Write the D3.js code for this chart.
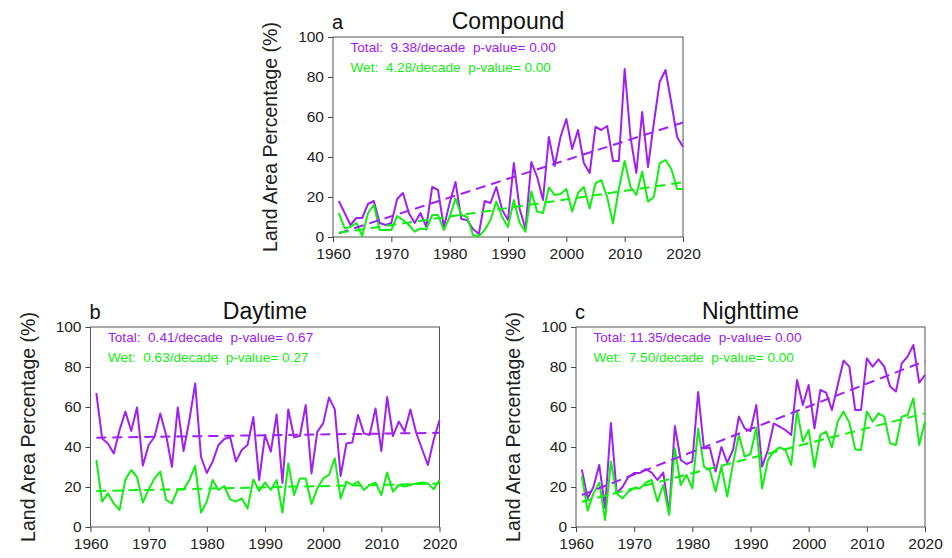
<!DOCTYPE html>
<html>
<head>
<meta charset="utf-8">
<script src="https://cdn.jsdelivr.net/npm/d3@7"></script>
<style>
  body { margin: 0; background: #fff; }
  svg { display: block; font-family: "Liberation Sans", Arial, Helvetica, sans-serif; }
</style>
</head>
<body>
<div id="chart"></div>
<script>
const years = d3.range(1961, 2021)

const compoundTotal = [18, 12, 6, 9.5, 9.5, 16.5, 18, 7, 6, 7,
  19, 22, 12, 7, 12, 5, 25, 23.5, 5, 17,
  27.5, 9, 8.5, 4, 1.5, 18, 17, 25, 13.5, 8.5,
  37, 14, 4, 37.5, 30, 18.5, 50, 35.5, 50, 59,
  44, 53.5, 37, 32, 55, 53.5, 55.5, 38, 38, 84,
  50, 32, 62.5, 35, 57, 77.5, 83.5, 67, 50, 45]
const compoundWet = [12, 4.3, 5, 7, 0.5, 12, 16, 3.5, 3.5, 3.5,
  10.5, 8.5, 6, 2.7, 4.3, 3.8, 11, 11, 3.5, 10,
  19.3, 11, 10, 1, 0.3, 3.5, 8.5, 17.7, 10, 5,
  18.5, 7, 2.7, 22.7, 12.7, 12, 24.8, 21, 21.5, 24,
  12.7, 22, 25, 14.3, 26.8, 28.5, 20, 6.8, 24, 38,
  25, 21, 32.7, 17.7, 20, 36.8, 38.5, 34, 24, 24]

const dayTotal = [67, 44.3, 41.8, 36.8, 48.5, 57.7, 48, 59.8, 30.7, 41,
  45, 56.8, 46, 30, 59.8, 38, 53.5, 71.8, 35, 27,
  32.7, 41, 44, 45, 32.7, 38.5, 41, 55, 23.5, 46,
  37.7, 56.3, 22, 58.8, 44.8, 45.5, 61, 26.8, 47.7, 51.8,
  64.8, 58.8, 25.5, 41.8, 42.2, 56, 46.8, 46, 59.3, 38,
  65, 45.5, 52.7, 47.7, 58.8, 47, 39, 31, 43.5, 53.5]
const dayWet = [33.5, 12.7, 16.8, 11.8, 8.5, 23.8, 28.5, 25, 12.2, 18.8,
  24.3, 27.7, 13.5, 11.8, 18.8, 18.8, 23.5, 30.5, 7.2, 12.7,
  23.5, 18.5, 20.5, 13.8, 12.7, 14.3, 9.3, 23.8, 18, 22.2,
  18.5, 23.5, 7.2, 31.8, 16, 24.3, 24.3, 11.5, 19.3, 24.3,
  26, 34.3, 14.3, 22.7, 21, 22.7, 18.5, 21, 22.2, 16,
  27.2, 17.7, 21, 20.2, 21, 21.8, 22.2, 21.8, 18.8, 23.5]

const nightTotal = [28.8, 14.3, 20, 31, 9.5, 52, 17, 20, 25, 27,
  27, 29, 27.2, 23.5, 27.2, 6.8, 50.5, 33.5, 31.5, 32.7,
  67.5, 39.3, 39.7, 27.7, 40, 32.2, 38.5, 55.2, 49.3, 48,
  61, 30.2, 38.5, 51.8, 50.2, 48.5, 46, 73.5, 61, 71,
  49.3, 68.5, 67.2, 58.5, 71, 83.2, 80.2, 58.5, 58.5, 84.3,
  80.2, 83.8, 80.2, 70.2, 67.7, 81.8, 85.2, 91, 72.2, 76]
const nightWet = [25.5, 8.2, 16.8, 22.2, 3.5, 32.7, 16.8, 14.3, 17.7, 19.3,
  19.3, 22.2, 23.5, 12.7, 21, 6, 39.3, 21, 26, 19.3,
  49.3, 30.2, 28.5, 17.7, 30.2, 15.2, 31.8, 46, 35.2, 36.5,
  49.8, 19.3, 33.5, 37.7, 39.8, 38.5, 31, 58.2, 42.7, 48.5,
  29.8, 46, 47.7, 39.8, 52.7, 57.7, 52.2, 38.8, 38.5, 57.7,
  52.7, 56.8, 55.2, 41.8, 41, 55.2, 56, 64.3, 41, 52.7]

const titles = ['Compound', 'Daytime', 'Nighttime']
const letters = ['a', 'b', 'c']
const slopesTotal = [9.38, 0.41, 11.35]
const slopesWet = [4.28, 0.63, 7.50]
const pTotal = [0.00, 0.67, 0.00]
const pWet = [0.00, 0.27, 0.00]

const xTicks = [1960, 1970, 1980, 1990, 2000, 2010, 2020]
const yTicks = [0, 20, 40, 60, 80, 100]

const purple = '#a020f0'
const green = '#11ee11'

const width = 952
const height = 558

// frame boxes of the three panels
const boxes = [
  { left: 333, right: 683, top: 37, bottom: 237 },
  { left: 90.5, right: 439.5, top: 327, bottom: 527 },
  { left: 576, right: 925, top: 327, bottom: 527 }
]

const series = [
  { total: compoundTotal, wet: compoundWet },
  { total: dayTotal, wet: dayWet },
  { total: nightTotal, wet: nightWet }
]

const svg = d3.select('#chart')
  .append('svg')
  .attr('width', width)
  .attr('height', height)

const fmt = d3.format('5.2f')

boxes.forEach((b, i) => {
  const g = svg.append('g').attr('class', 'panel')

  const x = d3.scaleLinear().domain([1960, 2020]).range([b.left, b.right])
  const y = d3.scaleLinear().domain([0, 100]).range([b.bottom, b.top])

  const yAxis = g.append('g')
    .attr('transform', `translate(${b.left},0)`)
    .call(d3.axisLeft(y).tickValues(yTicks).tickSize(5).tickPadding(4))
  const xAxis = g.append('g')
    .attr('transform', `translate(0,${b.bottom})`)
    .call(d3.axisBottom(x).tickValues(xTicks).tickFormat(d3.format('d')).tickSize(5).tickPadding(6))

  ;[xAxis, yAxis].forEach(a => {
    a.select('.domain').remove()
    a.selectAll('line').attr('stroke', '#444')
    a.selectAll('text')
      .attr('fill', '#222')
      .style('font-size', '15.5px')
      .style('font-family', '"Liberation Sans", Arial, sans-serif')
  })

  g.append('rect')
    .attr('x', b.left)
    .attr('y', b.top)
    .attr('width', b.right - b.left)
    .attr('height', b.bottom - b.top)
    .attr('fill', 'none')
    .attr('stroke', '#555')
    .attr('stroke-width', 1)

  const line = d3.line()
    .x((d, j) => x(years[j]))
    .y(d => y(d))

  const s = series[i]
  const slopes = [slopesTotal[i], slopesWet[i]]

  ;[s.total, s.wet].forEach((vals, k) => {
    const color = k === 0 ? purple : green

    g.append('path')
      .datum(vals)
      .attr('d', line)
      .attr('fill', 'none')
      .attr('stroke', color)
      .attr('stroke-width', 2)
      .attr('stroke-linejoin', 'round')
  })

  // trend lines: labelled slope, passing through the data mean
  ;[s.total, s.wet].forEach((vals, k) => {
    const color = k === 0 ? purple : green
    const perYear = slopes[k] / 10
    const my = d3.mean(years)
    const mv = d3.mean(vals)
    const ends = [years[0], years[years.length - 1]]
      .map(yr => [x(yr), y(mv + perYear * (yr - my))])

    g.append('path')
      .attr('d', d3.line()(ends))
      .attr('stroke', color)
      .attr('stroke-width', 2)
      .attr('stroke-dasharray', '10,6')
  })

  g.append('text')
    .attr('x', b.left + 17.5)
    .attr('y', b.top + 15)
    .attr('fill', purple)
    .style('font-size', '13.6px')
    .style('white-space', 'pre')
    .text(`Total: ${fmt(slopesTotal[i])}/decade  p-value= ${pTotal[i].toFixed(2)}`)

  g.append('text')
    .attr('x', b.left + 17.5)
    .attr('y', b.top + 35)
    .attr('fill', green)
    .style('font-size', '13.6px')
    .style('white-space', 'pre')
    .text(`Wet: ${fmt(slopesWet[i])}/decade  p-value= ${pWet[i].toFixed(2)}`)

  g.append('text')
    .attr('x', (b.left + b.right) / 2)
    .attr('y', b.top - 8)
    .attr('text-anchor', 'middle')
    .attr('fill', '#111')
    .style('font-size', '23px')
    .text(titles[i])

  g.append('text')
    .attr('x', b.left - 1)
    .attr('y', b.top - 8)
    .attr('fill', '#111')
    .style('font-size', '20px')
    .text(letters[i])

  g.append('text')
    .attr('transform', `translate(${b.left - 56},${(b.top + b.bottom) / 2}) rotate(-90)`)
    .attr('text-anchor', 'middle')
    .attr('fill', '#222')
    .style('font-size', '19.5px')
    .text('Land Area Percentage (%)')
})
</script>
</body>
</html>
